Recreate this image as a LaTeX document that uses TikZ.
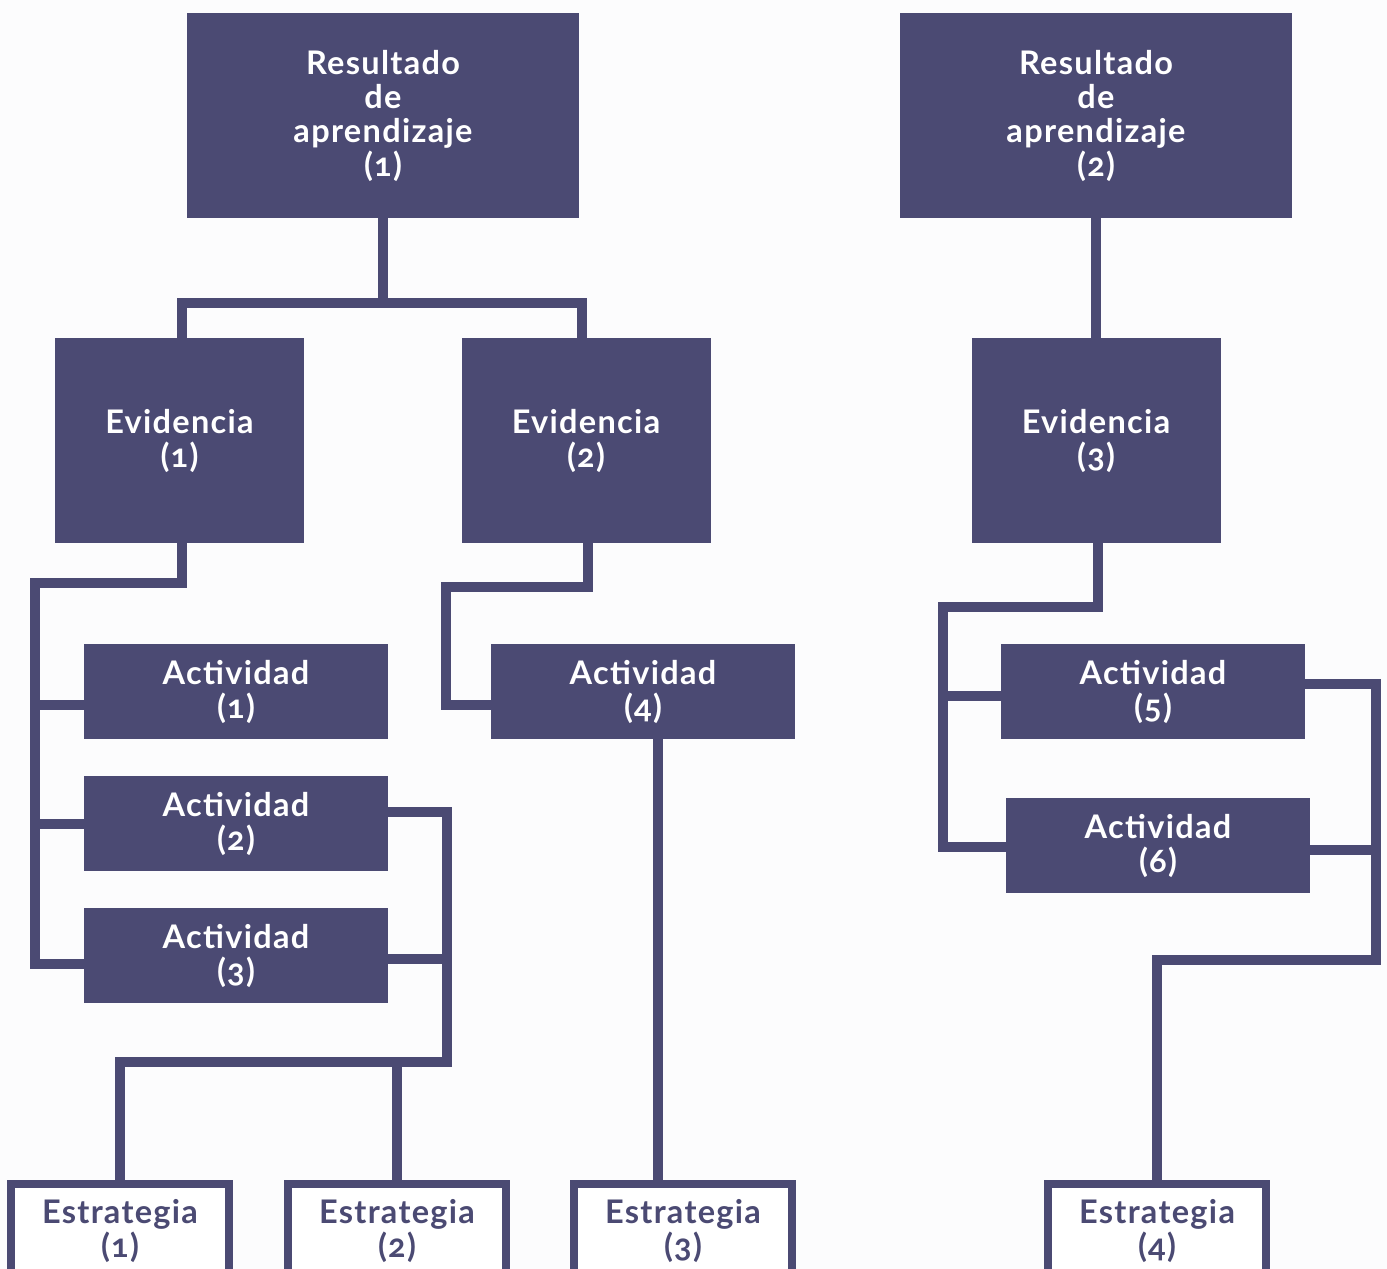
\documentclass[tikz,border=0pt]{standalone}
\usepackage{fontspec}
\setmainfont{Lato}[Numbers=OldStyle, LetterSpace=4]
\usetikzlibrary{positioning}
\definecolor{boxblue}{HTML}{4B4A73}
\definecolor{paper}{HTML}{FCFCFD}
\tikzstyle{result} = [rectangle, fill=boxblue, text=white, font=\bfseries\fontsize{32.5}{34}\selectfont, align=center, inner sep=0pt, minimum width=392pt, minimum height=205pt]
\tikzstyle{evidence} = [rectangle, fill=boxblue, text=white, font=\bfseries\fontsize{32.5}{34}\selectfont, align=center, inner sep=0pt, minimum width=249pt, minimum height=205pt]
\tikzstyle{activity} = [rectangle, fill=boxblue, text=white, font=\bfseries\fontsize{32.5}{34}\selectfont, align=center, inner sep=0pt, minimum width=304pt, minimum height=95pt]
\tikzstyle{strategy} = [rectangle, draw=boxblue, line width=8pt, fill=white, text=boxblue, font=\bfseries\fontsize{32.5}{34}\selectfont, align=center, inner sep=0pt, minimum width=218pt, minimum height=94pt]
\tikzstyle{link} = [draw=boxblue, line width=10pt]

\begin{document}
\begin{tikzpicture}[x=1pt, y=-1pt]
    % Page frame
    \useasboundingbox (0,0) rectangle (1387,1269);
    \clip (0,0) rectangle (1387,1269);
    \fill [paper] (0,0) rectangle (1387,1269);

    % Node Position Definitions
    \node [result] (res1) at (383,115.5) {Resultado\\de\\aprendizaje\\(1)};
    \node [result] (res2) at (1096,115.5) {Resultado\\de\\aprendizaje\\(2)};

    \node [evidence] (ev1) at (179.5,440.5) {Evidencia\\(1)};
    \node [evidence] (ev2) at (586,440.5) {Evidencia\\(2)};
    \node [evidence] (ev3) at (1096,440.5) {Evidencia\\(3)};

    \node [activity] (act1) at (236,691.5) {Actividad\\(1)};
    \node [activity] (act2) at (236,823.5) {Actividad\\(2)};
    \node [activity] (act3) at (236,955.5) {Actividad\\(3)};
    \node [activity] (act4) at (643,691.5) {Actividad\\(4)};
    \node [activity] (act5) at (1153,691.5) {Actividad\\(5)};
    \node [activity] (act6) at (1158,845.5) {Actividad\\(6)};

    \node [strategy] (str1) at (120,1231) {Estrategia\\(1)};
    \node [strategy] (str2) at (397,1231) {Estrategia\\(2)};
    \node [strategy] (str3) at (683,1231) {Estrategia\\(3)};
    \node [strategy] (str4) at (1157,1231) {Estrategia\\(4)};

    % Bus Points
    \coordinate (fork1) at (383,303);
    \coordinate (bus1) at (35,583);
    \coordinate (bus2) at (447,1062);
    \coordinate (bus3) at (943,607);
    \coordinate (bus4) at (1376,960);
    \coordinate (drop4) at ([xshift=15pt]act4.south);

    % Results to Evidences
    \draw [link] (res1.south) -- (fork1);
    \draw [link] ([xshift=2.5pt]ev1.north) |- (fork1) -| ([xshift=-4pt]ev2.north);
    \draw [link] (res2.south) -- (ev3.north);

    % Evidence 1 to Activities 1-3
    \draw [link] ([xshift=2.5pt]ev1.south) |- (bus1) |- ([yshift=-8.5pt]act3.west);
    \draw [link] ([yshift=-13.5pt]act1.west) -| (bus1);
    \draw [link] (act2.west) -| (bus1);

    % Activities 2-3 to Strategies 1-2
    \draw [link] ([yshift=11.5pt]act2.east) -| (bus2) -| (str1.north);
    \draw [link] ([yshift=-3.5pt]act3.east) -| (bus2);
    \draw [link] (str2.north) |- (bus2);

    % Evidence 2 to Activity 4, then Strategy 3
    \draw [link] ([xshift=2pt]ev2.south) |- (446,587) |- ([yshift=-13.5pt]act4.west);
    \draw [link] (drop4) -- (drop4 |- str3.north);

    % Evidence 3 to Activities 5-6
    \draw [link] ([xshift=2pt]ev3.south) |- (bus3) |- ([yshift=-1.5pt]act6.west);
    \draw [link] ([yshift=-4.5pt]act5.west) -| (bus3);

    % Activities 5-6 to Strategy 4
    \draw [link] ([yshift=7.5pt]act5.east) -| (bus4) -| (str4.north);
    \draw [link] ([yshift=-4.5pt]act6.east) -| (bus4);
\end{tikzpicture}
\end{document}
